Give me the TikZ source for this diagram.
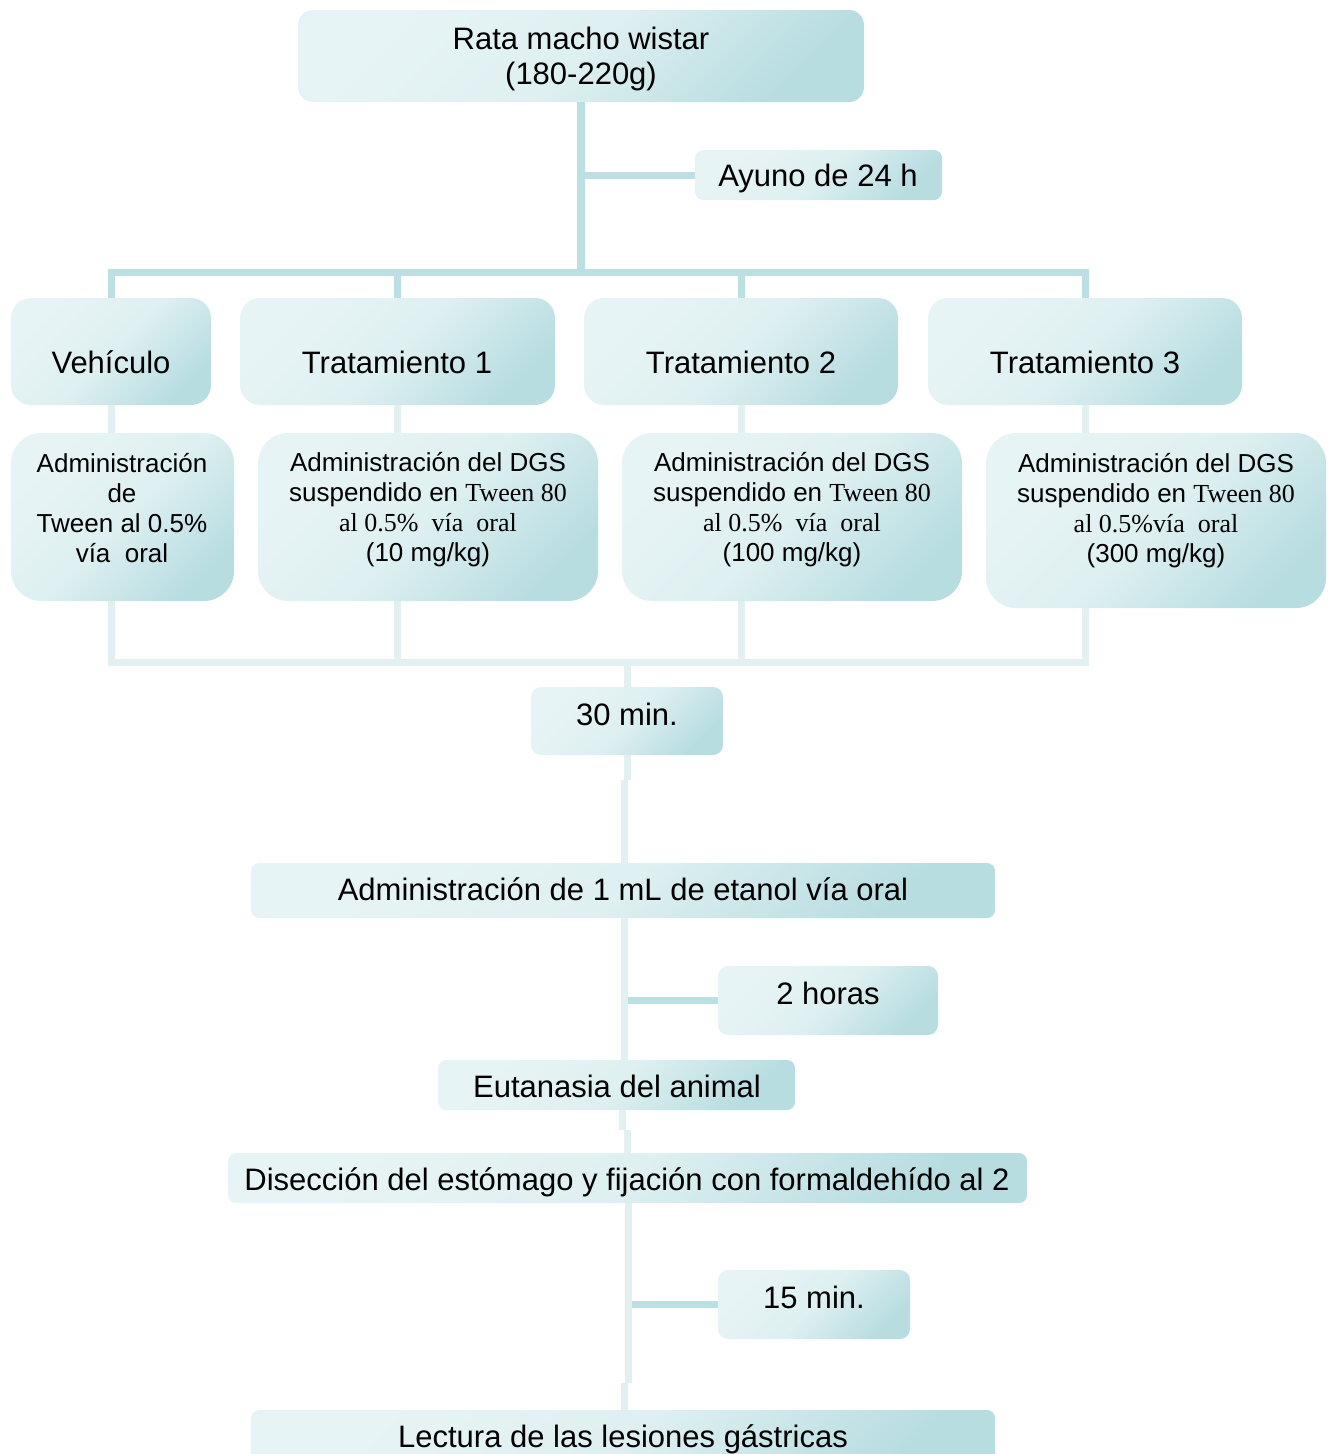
\documentclass[tikz,border=0pt]{standalone}
\usepackage{fontspec}
\setmainfont{Liberation Sans}
\newfontfamily\seriff{Liberation Serif}
\definecolor{boxL}{HTML}{E7F4F5}
\definecolor{boxD}{HTML}{B8DDE1}
\definecolor{lineD}{HTML}{BBDFE2}
\definecolor{lineL}{HTML}{E2F0F2}
\begin{document}
\begin{tikzpicture}[x=1pt,y=-1pt,
 box/.style={rectangle, rounded corners=#1, draw=none, inner sep=0pt,
   top color=boxL, bottom color=boxD, middle color=boxL!82!boxD, shading angle=45},
 box/.default=10pt,
 bigt/.style={font=\fontsize{31}{35}\selectfont, inner sep=0pt, anchor=base},
 bigml/.style={font=\fontsize{31}{35}\selectfont, inner sep=0pt, align=center},
 smallt/.style={font=\fontsize{26}{30}\selectfont, inner sep=0pt, align=center},
 dline/.style={draw=lineD, line width=7pt},
 lline/.style={draw=lineL, line width=7pt}]
\useasboundingbox (0,0) rectangle (1334,1454);
\clip (0,0) rectangle (1334,1454);

% ---------- boxes ----------
\node[box=15pt, minimum width=566, minimum height=92] (rata) at (581,56) {};
\node[box=8pt, minimum width=247, minimum height=50] (ayuno) at (818.5,175) {};
\node[box=20pt, minimum width=200, minimum height=107] (veh1) at (111,351.5) {};
\node[box=20pt, minimum width=315, minimum height=107] (t1) at (397.5,351.5) {};
\node[box=20pt, minimum width=314, minimum height=107] (t2) at (741,351.5) {};
\node[box=20pt, minimum width=314, minimum height=107] (t3) at (1085,351.5) {};
\node[box=30pt, minimum width=223, minimum height=168] (veh2) at (122.5,517) {};
\node[box=30pt, minimum width=340, minimum height=168] (a1) at (428,517) {};
\node[box=30pt, minimum width=340, minimum height=168] (a2) at (792,517) {};
\node[box=30pt, minimum width=340, minimum height=175] (a3) at (1156,520.5) {};
\node[box=10pt, minimum width=192, minimum height=68] (t30) at (627,721) {};
\node[box=8pt, minimum width=744, minimum height=55] (etanol) at (623,890.5) {};
\node[box=10pt, minimum width=220, minimum height=69] (h2) at (828,1000.5) {};
\node[box=8pt, minimum width=357, minimum height=50] (euta) at (616.5,1085) {};
\node[box=8pt, minimum width=799, minimum height=50] (disec) at (627.5,1178) {};
\node[box=10pt, minimum width=192, minimum height=69] (m15) at (814,1304.5) {};
\node[box=8pt, minimum width=744, minimum height=70] (lect) at (623,1445) {};

% ---------- coordinates ----------
\coordinate (barC) at (581,272);
\coordinate (colC) at (627,662);
\coordinate (j1) at (627,780);
\coordinate (j2) at (624,780);
\coordinate (k1) at (622,1130);
\coordinate (k2) at (627,1130);
\coordinate (m1) at (628,1383);
\coordinate (m2) at (624,1383);

% ---------- connectors (dark) ----------
\draw[dline, line width=8pt] (rata.south) -- (barC);
\draw[dline] (rata.south |- ayuno.west) -- (ayuno.west);
\draw[dline] (veh1.north) -- (veh1.north |- barC) -- (t3.north |- barC) -- (t3.north);
\draw[dline] (t1.north |- barC) -- (t1.north);
\draw[dline] (t2.north |- barC) -- (t2.north);

% ---------- connectors (light) ----------
\draw[lline] (veh1.south) -- (veh1.south |- veh2.north);
\draw[lline] (t1.south) -- (t1.south |- a1.north);
\draw[lline] (t2.south) -- (t2.south |- a2.north);
\draw[lline] (t3.south) -- (t3.south |- a3.north);
\draw[lline] (veh1.south |- veh2.south) -- (veh1.south |- colC) -- (t3.south |- colC) -- (t3.south |- a3.south);
\draw[lline] (t1.south |- a1.south) -- (t1.south |- colC);
\draw[lline] (t2.south |- a2.south) -- (t2.south |- colC);
\draw[lline] (colC) -- (t30.north);
\draw[lline] (t30.south) -- (j1);
\draw[lline] (j2) -- (j2 |- etanol.north);
\draw[lline] (j2 |- etanol.south) -- (j2 |- euta.north);
\draw[dline] (628,1000.5) -- (h2.west);
\draw[lline] (k1 |- euta.south) -- (k1);
\draw[lline] (k2) -- (k2 |- disec.north);
\draw[lline] (m1 |- disec.south) -- (m1);
\draw[lline] (m2) -- (m2 |- lect.north);
\draw[dline] (632,1304.5) -- (m15.west);

% ---------- texts ----------
\node[bigml] (ratat) at (581,59) {Rata macho wistar\\(180-220g)};
\node[bigt] (ayunot) at (818,186) {Ayuno de 24 h};
\node[bigt] (veh1t) at (111,373) {Vehículo};
\node[bigt] (t1t) at (397,373) {Tratamiento 1};
\node[bigt] (t2t) at (741,373) {Tratamiento 2};
\node[bigt] (t3t) at (1085,373) {Tratamiento 3};
\node[smallt] (veh2t) at (122,508) {Administración\\de\\Tween al 0.5\%\\vía~~oral};
\node[smallt] (a1t) at (428,510) {Administración del DGS\\suspendido en {\seriff Tween 80}\\{\seriff al 0.5\%~~vía~~oral}\\(10 mg/kg)};
\node[smallt] (a2t) at (792,510) {Administración del DGS\\suspendido en {\seriff Tween 80}\\{\seriff al 0.5\%~~vía~~oral}\\(100 mg/kg)};
\node[smallt] (a3t) at (1156,511) {Administración del DGS\\suspendido en {\seriff Tween 80}\\{\seriff al 0.5\%vía~~oral}\\(300 mg/kg)};
\node[bigt] (t30t) at (627,725) {30 min.};
\node[bigt] (etanolt) at (623,900) {Administración de 1 mL de etanol vía oral};
\node[bigt] (h2t) at (828,1004) {2 horas};
\node[bigt] (eutat) at (617,1097) {Eutanasia del animal};
\node[bigt] (disect) at (627,1190) {Disección del estómago y fijación con formaldehído al 2};
\node[bigt] (m15t) at (814,1308) {15 min.};
\node[bigt] (lectt) at (623,1447) {Lectura de las lesiones gástricas};
\end{tikzpicture}
\end{document}
